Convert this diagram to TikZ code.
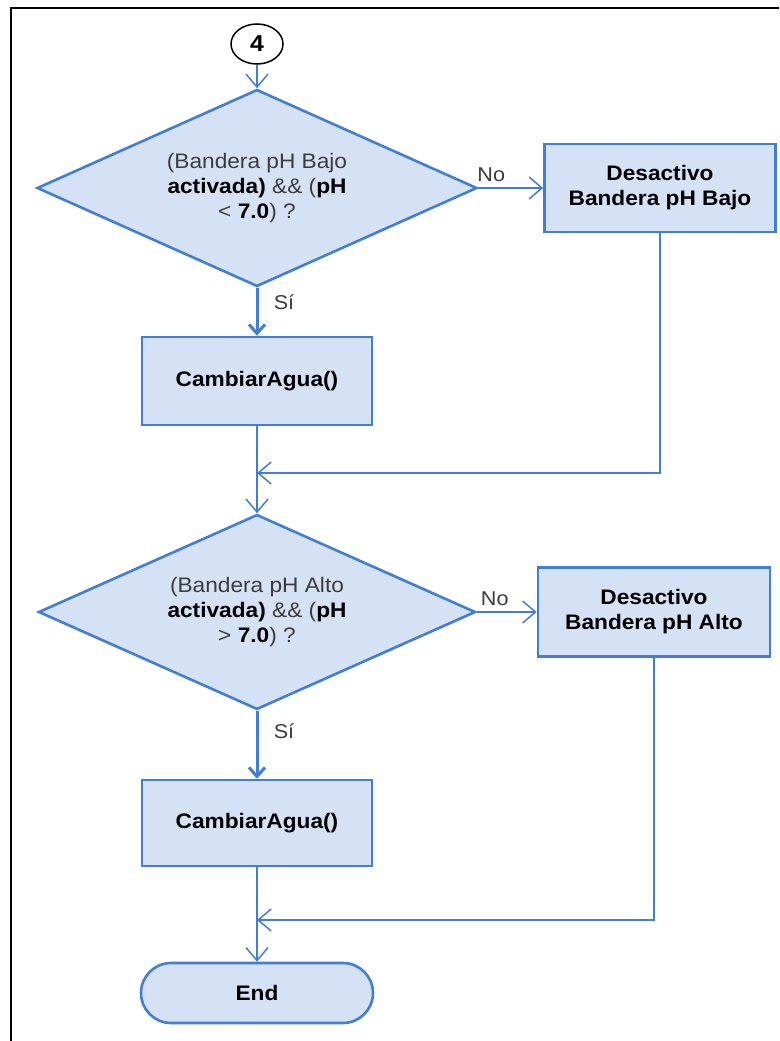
\documentclass[tikz,border=0pt]{standalone}
\usepackage{fontspec}
\setmainfont{Liberation Sans}[FakeStretch=1.08]
\usetikzlibrary{shapes.geometric,shapes.misc,arrows.meta}
\definecolor{fillblue}{RGB}{213,226,245}
\definecolor{lineblue}{RGB}{66,126,214}
\definecolor{txtgray}{RGB}{60,60,60}
\tikzset{
  base/.style={draw=lineblue, fill=fillblue, line width=2.6pt, font=\fontsize{21}{25}\selectfont, text=txtgray, align=center, inner sep=0pt},
  decision/.style={base, diamond, aspect=2.2, minimum width=440pt, minimum height=197pt},
  procbox/.style={base, rectangle, minimum width=231pt, minimum height=88pt, text=black, font=\bfseries\fontsize{21}{25}\selectfont},
  termbox/.style={base, rounded rectangle, minimum width=232pt, minimum height=60pt, text=black, font=\bfseries\fontsize{21}{25}\selectfont},
  connect/.style={draw, ellipse, line width=1.5pt, minimum width=52pt, minimum height=40pt, inner sep=0pt, font=\bfseries\fontsize{23}{26}\selectfont},
  arr/.style={draw=lineblue, line width=1.5pt, -{Straight Barb[length=13pt,width=22pt,line width=1.5pt]}},
  thickarr/.style={draw=lineblue, line width=3pt, -{Straight Barb[length=9pt,width=16pt,line width=3pt]}},
  lbl/.style={font=\fontsize{20}{24}\selectfont, text=txtgray}
}
\newcommand{\bk}[1]{\textbf{\color{black}#1}}
\begin{document}
\begin{tikzpicture}[x=1pt,y=-1pt]
\useasboundingbox (0,0) rectangle (779,1041);
\fill[white] (0,0) rectangle (779,1041);
\draw[black, line width=2.5pt] (11,1041) -- (11,8) -- (779,8);

\node[connect] (c4) at (257,44) {4};
\node[decision] (d1) at (257,188) {(Bandera pH Bajo\\\bk{activada)} \&\& (\bk{pH}\\< \bk{7.0}) ?};
\node[procbox] (b1) at (660,188) {Desactivo\\Bandera pH Bajo};
\node[procbox, minimum width=230pt] (ca1) at (257,381) {CambiarAgua()};
\coordinate (m1) at (257,473);
\node[decision, minimum width=437pt, minimum height=195pt] (d2) at (257,612) {(Bandera pH Alto\\\bk{activada)} \&\& (\bk{pH}\\> \bk{7.0}) ?};
\node[procbox, minimum width=232pt, minimum height=89pt] (b2) at (654,612) {Desactivo\\Bandera pH Alto};
\node[procbox, minimum width=230pt, minimum height=86pt] (ca2) at (257,823) {CambiarAgua()};
\coordinate (m2) at (257,920);
\node[termbox] (end) at (257,993) {End};

\draw[arr] (c4.south) -- (d1.north);
\draw[arr] (d1.east) -- node[lbl, pos=0.2, above=2pt] {No} (b1.west);
\draw[thickarr] (d1.south) -- node[lbl, pos=0.3, right=12pt] {Sí} (ca1.north);
\draw[arr] (ca1.south) -- (d2.north);
\draw[arr] (b1.south) |- (m1);
\draw[arr] (d2.east) -- node[lbl, pos=0.3, above=2pt] {No} (b2.west);
\draw[thickarr] (d2.south) -- node[lbl, pos=0.3, right=12pt] {Sí} (ca2.north);
\draw[arr] (ca2.south) -- (end.north);
\draw[arr] (b2.south) |- (m2);
\end{tikzpicture}
\end{document}
